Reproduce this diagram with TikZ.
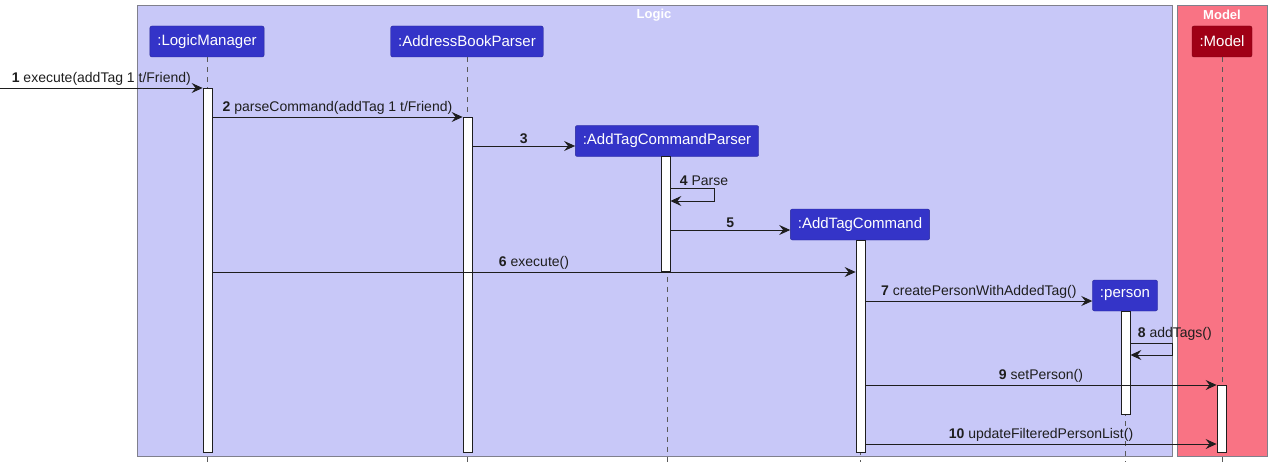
\documentclass[tikz,border=0pt]{standalone}
\usepackage{fontspec}
\setmainfont{Liberation Sans}
\usetikzlibrary{positioning,arrows.meta,calc}
\definecolor{logicbg}{HTML}{C8C8F8}
\definecolor{modelbg}{HTML}{F97384}
\definecolor{partblue}{HTML}{3434C8}
\definecolor{partred}{HTML}{A00016}
\definecolor{frame}{HTML}{80808C}
\definecolor{ink}{HTML}{1E1E1E}

\begin{document}
\begin{tikzpicture}[x=1pt, y=-1pt,
  part/.style={rounded corners=2pt, text=white, minimum height=31pt,
    inner xsep=7.5pt, inner ysep=0pt, font=\fontsize{15}{18}\selectfont},
  logicpart/.style={part, fill=partblue, draw=partblue!75!black},
  modelpart/.style={part, fill=partred, draw=partred!75!black},
  life/.style={draw=gray!70!black, dash pattern=on 5pt off 5pt, line width=0.7pt},
  actbar/.style={draw=ink, fill=white, minimum width=9pt, inner sep=0pt, line width=0.8pt},
  msg/.style={draw=ink, line width=0.9pt, -{Stealth[length=11pt,width=10pt,inset=4pt]}},
  lbl/.style={font=\fontsize{14}{16}\selectfont, text=ink, inner sep=2pt},
  boxtitle/.style={font=\bfseries\fontsize{13}{15}\selectfont, text=white}]

\useasboundingbox (0,0) rectangle (1274,468);

% groups
\draw[fill=logicbg, draw=frame, line width=1pt] (137,6) rectangle (1172,456);
\draw[fill=modelbg, draw=frame, line width=1pt] (1177,6) rectangle (1267,456);
\node[boxtitle] (logicTitle) at (654,15) {Logic};
\node[boxtitle] (modelTitle) at (1222,15) {Model};

% participants
\node[logicpart] (logicManager) at (207,41.5) {:LogicManager};
\node[logicpart] (parser) at (467,41.5) {:AddressBookParser};
\node[logicpart] (tagParser) at (667,141) {:AddTagCommandParser};
\node[logicpart] (tagCommand) at (860,224.5) {:AddTagCommand};
\node[logicpart] (person) at (1125,295.5) {:person};
\node[modelpart] (model) at (1222,41.5) {:Model};

% lifelines
\foreach \p in {logicManager,parser,tagParser,tagCommand,person,model}
  \draw[life] (\p.south) -- (\p.south |- 0,462);

% activations
\node[actbar, minimum height=364pt] (logicManagerAct) at (207.5,270) {};
\node[actbar, minimum height=335pt] (parserAct) at (467.5,284.5) {};
\node[actbar, minimum height=115pt] (tagParserAct) at (665.5,213.5) {};
\node[actbar, minimum height=212pt] (tagCommandAct) at (860.5,346) {};
\node[actbar, minimum height=103pt] (personAct) at (1125.5,362.5) {};
\node[actbar, minimum height=67pt] (modelAct) at (1221.5,418.5) {};

% messages
\coordinate (caller) at (0,88);
\draw[msg] (caller) -- node[lbl, above] {\textbf{1} execute(addTag 1 t/Friend)}
  (logicManagerAct.west |- caller);
\draw[msg] (logicManagerAct.east |- 0,117) -- node[lbl, above] {\textbf{2} parseCommand(addTag 1 t/Friend)}
  (parserAct.west |- 0,117);
\draw[msg] (parserAct.east |- 0,146) -- node[lbl, above] {\textbf{3}}
  (tagParser.west |- 0,146);
\draw[msg] (tagParserAct.east |- 0,188) node[lbl, above right, xshift=7pt] {\textbf{4} Parse}
  -- ++(44,0) |- (tagParserAct.east |- 0,201);
\draw[msg] (tagParserAct.east |- 0,230) -- node[lbl, above] {\textbf{5}}
  (tagCommand.west |- 0,230);
\draw[msg] (logicManagerAct.east |- 0,272) -- node[lbl, above] {\textbf{6} execute()}
  (tagCommandAct.west |- 0,272);
\draw[msg] (tagCommandAct.east |- 0,301) -- node[lbl, above] {\textbf{7} createPersonWithAddedTag()}
  (person.west |- 0,301);
\draw[msg] (personAct.east |- 0,343) node[lbl, above right, xshift=5pt] {\textbf{8} addTags()}
  -- ++(42,0) |- (personAct.east |- 0,355);
\draw[msg] (tagCommandAct.east |- 0,385) -- node[lbl, above] {\textbf{9} setPerson()}
  (modelAct.west |- 0,385);
\draw[msg] (tagCommandAct.east |- 0,444) -- node[lbl, above] {\textbf{10} updateFilteredPersonList()}
  (modelAct.west |- 0,444);
\end{tikzpicture}
\end{document}
